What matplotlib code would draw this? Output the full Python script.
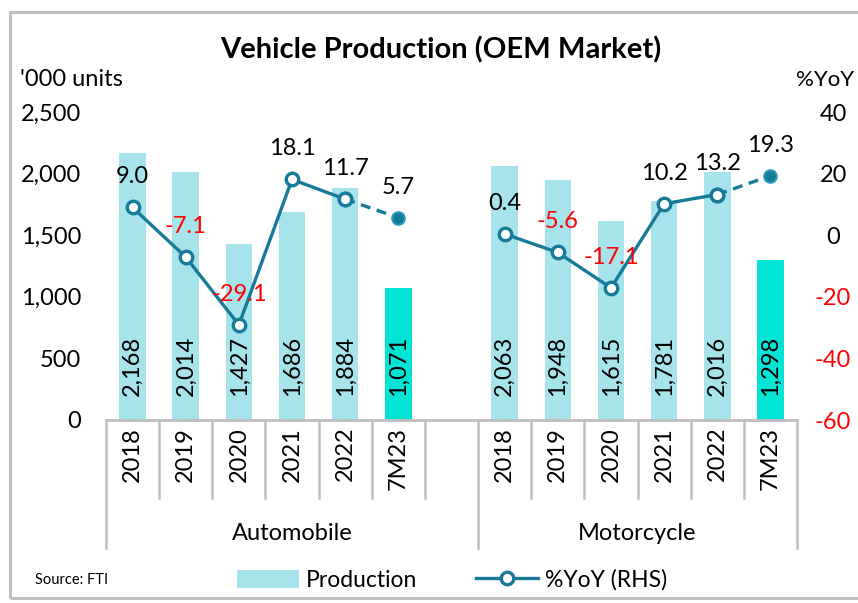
import matplotlib
matplotlib.use("Agg")
import matplotlib.pyplot as plt
from matplotlib.patches import Rectangle, Patch
from matplotlib.lines import Line2D

plt.rcParams['font.family'] = ['Lato', 'DejaVu Sans']

years = ["2018", "2019", "2020", "2021", "2022", "7M23"]
groups = ["Automobile", "Motorcycle"]
auto_prod = [2168, 2014, 1427, 1686, 1884, 1071]
moto_prod = [2063, 1948, 1615, 1781, 2016, 1298]
auto_yoy = [9.0, -7.1, -29.1, 18.1, 11.7, 5.7]
moto_yoy = [0.4, -5.6, -17.1, 10.2, 13.2, 19.3]
left_ticks = [0, 500, 1000, 1500, 2000, 2500]
right_ticks = [-60, -40, -20, 0, 20, 40]

LIGHT = "#a6e3ea"
BRIGHT = "#00e3d5"
LINE = "#167a99"
RED = "#ff0000"
GRID = "#bfbfbf"

W, H = 858, 603
fig = plt.figure(figsize=(W / 100, H / 100), dpi=100)
fig.patch.set_facecolor("white")

# outer frame (cropped at right)
fig.add_artist(Rectangle((10 / W, 5 / H), 1.0, (598 - 12) / H, transform=fig.transFigure,
                         fill=False, edgecolor=GRID, linewidth=2.2, clip_on=False))

x0, x1, yb, yt = 106, 797, 420, 112
ax = fig.add_axes([x0 / W, 1 - yb / H, (x1 - x0) / W, (yb - yt) / H])
ax2 = ax.twinx()

auto_x = [i + 0.5 for i in range(6)]
moto_x = [i + 7.5 for i in range(6)]

for xs, vals in ((auto_x, auto_prod), (moto_x, moto_prod)):
    colors = [LIGHT] * 5 + [BRIGHT]
    ax.bar(xs, vals, width=0.5, color=colors, zorder=2)
    for x, v in zip(xs, vals):
        ax.annotate(f"{v:,}", xy=(x, 0), xytext=(0, 17), textcoords="offset points",
                    rotation=90, ha="center", va="bottom", fontsize=17, color="black")

for xs, vals in ((auto_x, auto_yoy), (moto_x, moto_yoy)):
    ax2.plot(xs[:5], vals[:5], color=LINE, lw=2.4, marker="o", ms=9,
             mfc="white", mec=LINE, mew=2.4, zorder=3)
    ax2.plot(xs[4:], vals[4:], color=LINE, lw=2.4, ls=(0, (3, 2)), zorder=3)
    ax2.plot(xs[4:5], vals[4:5], ls="none", marker="o", ms=9, mfc="white", mec=LINE, mew=2.4, zorder=4)
    ax2.plot(xs[5:], vals[5:], ls="none", marker="o", ms=9, mfc=LINE, mec="#2a9ab8", mew=1.5, zorder=4)
    for x, v in zip(xs, vals):
        ax2.annotate(f"{v:.1f}", xy=(x, v), xytext=(0, 22), textcoords="offset points",
                     ha="center", va="center", fontsize=17, color=RED if v < 0 else "black")

ax.set_xlim(0, 13)
ax.set_ylim(0, 2500)
ax2.set_ylim(-60, 40)
ax.set_xticks([])
ax.set_yticks(left_ticks)
ax.set_yticklabels([f"{t:,}" for t in left_ticks], fontsize=17)
ax.tick_params(axis="y", length=0, pad=18)
ax2.set_yticks(right_ticks)
ax2.set_yticklabels([str(t) for t in right_ticks], fontsize=17, ha="center")
ax2.tick_params(axis="y", length=0, pad=26)
for lbl, t in zip(ax2.get_yticklabels(), right_ticks):
    lbl.set_color(RED if t < 0 else "black")

for a in (ax, ax2):
    for s in ("top", "left", "right"):
        a.spines[s].set_visible(False)
    a.spines["bottom"].set_color(GRID)
    a.spines["bottom"].set_linewidth(1.8)
ax.set_zorder(1)
ax2.set_zorder(2)
ax.patch.set_visible(False)
ax2.patch.set_visible(False)

trans = ax.get_xaxis_transform()
h = yb - yt
inner_end = -(498 - yb) / h
group_end = -(548 - yb) / h
for b in range(14):
    end = group_end if b in (0, 7, 13) else inner_end
    ax.plot([b, b], [0, end], color=GRID, lw=1.8, transform=trans, clip_on=False)

for xs in (auto_x, moto_x):
    for x, y in zip(xs, years):
        ax.text(x, -0.022, y, transform=trans, rotation=90, ha="center", va="top", fontsize=17)

ax.text(3.5, -(533 - yb) / h, groups[0], transform=trans, ha="center", va="center", fontsize=17)
ax.text(10.0, -(533 - yb) / h, groups[1], transform=trans, ha="center", va="center", fontsize=17)

fig.text(441 / W, 1 - 50 / H, "Vehicle Production (OEM Market)", ha="center", va="center",
         fontsize=21, fontweight="bold")
fig.text(20 / W, 1 - 80 / H, "'000 units", ha="left", va="center", fontsize=17)
fig.text(854 / W, 1 - 80 / H, "%YoY", ha="right", va="center", fontsize=16)
fig.text(35 / W, 1 - 580 / H, "Source: FTI", ha="left", va="center", fontsize=10.5)

handles = [Patch(facecolor=LIGHT, edgecolor="none"),
           Line2D([], [], color=LINE, lw=2.4, marker="o", ms=9, mfc="white", mec=LINE, mew=2.4)]
fig.legend(handles, ["Production", "%YoY (RHS)"], loc="center", bbox_to_anchor=(452 / W, 1 - 580 / H),
           ncol=2, frameon=False, fontsize=16.5, handlelength=2.7, handleheight=0.8,
           columnspacing=2.6, handletextpad=0.3)

fig.savefig("out.png", dpi=100)
